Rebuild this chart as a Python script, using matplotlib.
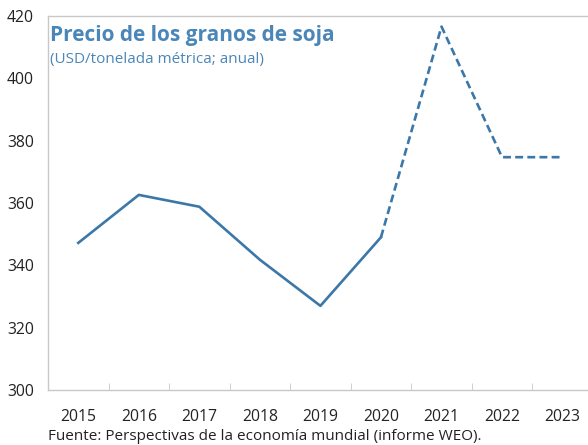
import matplotlib.pyplot as plt

years = ['2015', '2016', '2017', '2018', '2019', '2020', '2021', '2022', '2023']
# actual values up to 2020, projections afterwards
actual = [347.2, 362.6, 358.8, 341.8, 327.0, 349.0]
projected = [349.0, 416.6, 374.7, 374.7]

LINE = '#3b77a8'
TXT = '#222222'
GRID = '#c8c8c8'

plt.rcParams['font.family'] = ['Open Sans', 'DejaVu Sans']

fig = plt.figure(figsize=(5.88, 4.45), dpi=100)
ax = fig.add_axes([48/588, 1 - 390/445, 1 - 48/588, 374/445])

x_act = list(range(len(actual)))
x_proj = list(range(len(actual) - 1, len(years)))
ax.plot(x_act, actual, color=LINE, lw=1.9)
ax.plot(x_proj, projected, color=LINE, lw=1.9, ls=(0, (3, 1.6)))

ax.set_xlim(-0.5, 8.42)
ax.set_ylim(300, 420)
ax.set_yticks(range(300, 421, 20))
ax.set_xticks(range(len(years)))
ax.set_xticklabels(years)
ax.set_xticks([i + 0.5 for i in range(len(years) - 1)], minor=True)

for s in ['left', 'bottom', 'top']:
    ax.spines[s].set_color(GRID)
    ax.spines[s].set_linewidth(1)
ax.spines['right'].set_visible(False)
ax.tick_params(axis='x', which='major', length=0, pad=14, labelsize=11.3, labelcolor=TXT)
ax.tick_params(axis='x', which='minor', direction='in', length=5, color=GRID)
ax.tick_params(axis='y', length=0, pad=10, labelsize=11.3, labelcolor=TXT)

fig.text(50/588, 1 - 36/445, 'Precio de los granos de soja', color='#4a86b8',
         fontsize=15, fontweight='bold', va='center')
fig.text(50/588, 1 - 60/445, '(USD/tonelada métrica; anual)', color='#4a86b8',
         fontsize=11, va='center')
fig.text(48/588, 1 - 436/445, 'Fuente: Perspectivas de la economía mundial (informe WEO).',
         color=TXT, fontsize=11, va='center')

fig.savefig('out.png', dpi=100)
